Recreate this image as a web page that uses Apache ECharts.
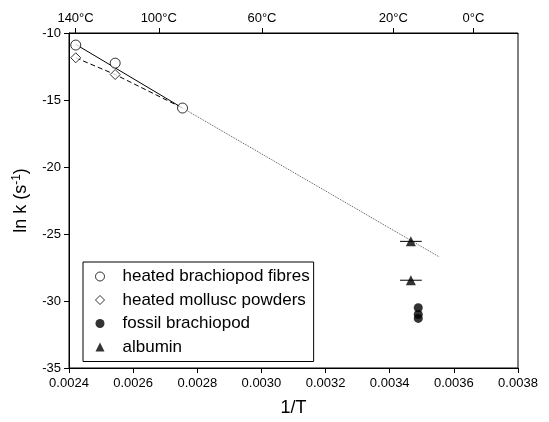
<!DOCTYPE html>
<html>
<head>
<meta charset="utf-8">
<script src="https://cdn.jsdelivr.net/npm/echarts@6/dist/echarts.min.js"></script>
<style>html,body{margin:0;padding:0;background:#fff}#c{width:549px;height:422px}</style>
</head>
<body>
<div id="c"></div>
<script>
// ---- data ----
var fibresX = [0.002421, 0.002544, 0.002754];
var fibresY = [-10.9, -12.25, -15.6];
var molluscX = [0.002421, 0.002544];
var molluscY = [-11.85, -13.1];
var fossilX = [0.003489, 0.003489, 0.003489];
var fossilY = [-30.5, -31.0, -31.3];
var albuminX = [0.003466, 0.003466];
var albuminY = [-25.55, -28.45];
var albuminErr = [0.000034, 0.000034];
var fitSolidX = [0.002421, 0.002754];
var fitSolidY = [-10.85, -15.6];
var fitDashedX = [0.002421, 0.002544, 0.002754];
var fitDashedY = [-11.85, -13.1, -15.6];
var extrapX = [0.002754, 0.003554];
var extrapY = [-15.6, -26.7];
var tempLabels = [140, 100, 60, 20, 0];   // °C, top axis

function pairs(xs, ys) { return xs.map(function (x, i) { return [x, ys[i]]; }); }
var tempPos = tempLabels.map(function (t) { return 1 / (t + 273.15); });

var font = 'Liberation Sans, Arial, sans-serif';
var chart = echarts.init(document.getElementById('c'), null, {renderer: 'canvas'});
chart.setOption({
  animation: false,
  grid: {left: 69, right: 31, top: 33, bottom: 54, show: true, borderColor: '#000', borderWidth: 1,
    containLabel: false, outerBoundsMode: 'none'},
  xAxis: [{
    type: 'value', position: 'bottom', min: 0.0024, max: 0.0038, interval: 0.0002,
    name: '1/T', nameLocation: 'middle', nameGap: 31,
    nameTextStyle: {fontFamily: font, fontSize: 18, color: '#000'},
    axisLine: {lineStyle: {color: '#000'}},
    axisTick: {inside: false, length: 5, lineStyle: {color: '#000'}},
    axisLabel: {fontFamily: font, fontSize: 13, color: '#000', margin: 9,
      formatter: function (v) { return v.toFixed(4); }},
    splitLine: {show: false}
  }, {
    type: 'value', position: 'top', min: 0.0024, max: 0.0038,
    axisLine: {lineStyle: {color: '#000'}},
    axisTick: {length: 5, lineStyle: {color: '#000'}, customValues: tempPos},
    axisLabel: {fontFamily: font, fontSize: 13, color: '#000', margin: 8, customValues: tempPos,
      formatter: function (v) {
        for (var i = 0; i < tempPos.length; i++) if (Math.abs(tempPos[i] - v) < 1e-7) return tempLabels[i] + '°C';
        return '';
      }},
    splitLine: {show: false}
  }],
  yAxis: {
    type: 'value', min: -35, max: -10, interval: 5,
    name: 'ln k (s{sup|-1})', nameLocation: 'middle', nameGap: 38, nameRotate: 90,
    nameTextStyle: {fontFamily: font, fontSize: 18, color: '#000',
      rich: {sup: {fontFamily: font, fontSize: 12, color: '#000', verticalAlign: 'top', padding: [0, 0, 8, 0]}}},
    axisLine: {lineStyle: {color: '#000'}},
    axisTick: {length: 5, lineStyle: {color: '#000'}},
    axisLabel: {fontFamily: font, fontSize: 13, color: '#000', margin: 8},
    splitLine: {show: false}
  },
  legend: {
    orient: 'vertical', left: 83, top: 262,
    borderColor: '#000', borderWidth: 1, padding: [6, 4, 6, 12],
    itemWidth: 9, itemHeight: 9, itemGap: 6.5,
    textStyle: {fontFamily: font, fontSize: 17, color: '#000', padding: [0, 0, 0, 13]},
    data: [
      {name: 'heated brachiopod fibres', icon: 'circle', itemStyle: {color: '#fff', borderColor: '#000', borderWidth: 1}},
      {name: 'heated mollusc powders', icon: 'diamond', itemStyle: {color: '#fff', borderColor: '#000', borderWidth: 1}},
      {name: 'fossil brachiopod', icon: 'circle'},
      {name: 'albumin', icon: 'triangle'}
    ]
  },
  series: [
    {type: 'line', data: pairs(extrapX, extrapY), symbol: 'none', silent: true,
      lineStyle: {color: '#555', width: 1, type: [1, 1]}, z: 1},
    {type: 'line', data: pairs(fitSolidX, fitSolidY), symbol: 'none', silent: true,
      lineStyle: {color: '#000', width: 1}, z: 1},
    {type: 'line', data: pairs(fitDashedX, fitDashedY), symbol: 'none', silent: true,
      lineStyle: {color: '#000', width: 1, type: [5, 3]}, z: 1},
    {type: 'custom', silent: true, z: 2,
      data: albuminX.map(function (x, i) { return [x, albuminY[i], albuminErr[i]]; }),
      renderItem: function (params, api) {
        var a = api.coord([api.value(0) - api.value(2), api.value(1)]);
        var b = api.coord([api.value(0) + api.value(2), api.value(1)]);
        return {type: 'line', shape: {x1: a[0], y1: a[1], x2: b[0], y2: b[1]}, style: {stroke: '#000', lineWidth: 1}};
      }},
    {name: 'heated mollusc powders', type: 'scatter', symbol: 'diamond', symbolSize: 10,
      data: pairs(molluscX, molluscY), itemStyle: {color: '#fff', borderColor: '#000', borderWidth: 1}, z: 3},
    {name: 'heated brachiopod fibres', type: 'scatter', symbol: 'circle', symbolSize: 10,
      data: pairs(fibresX, fibresY), itemStyle: {color: '#fff', borderColor: '#000', borderWidth: 1}, z: 3},
    {name: 'fossil brachiopod', type: 'scatter', symbol: 'circle', symbolSize: 9,
      data: pairs(fossilX, fossilY), itemStyle: {color: '#000'}, z: 3},
    {name: 'albumin', type: 'scatter', symbol: 'triangle', symbolSize: 10,
      data: pairs(albuminX, albuminY), itemStyle: {color: '#000'}, z: 3}
  ]
});
</script>
</body>
</html>
